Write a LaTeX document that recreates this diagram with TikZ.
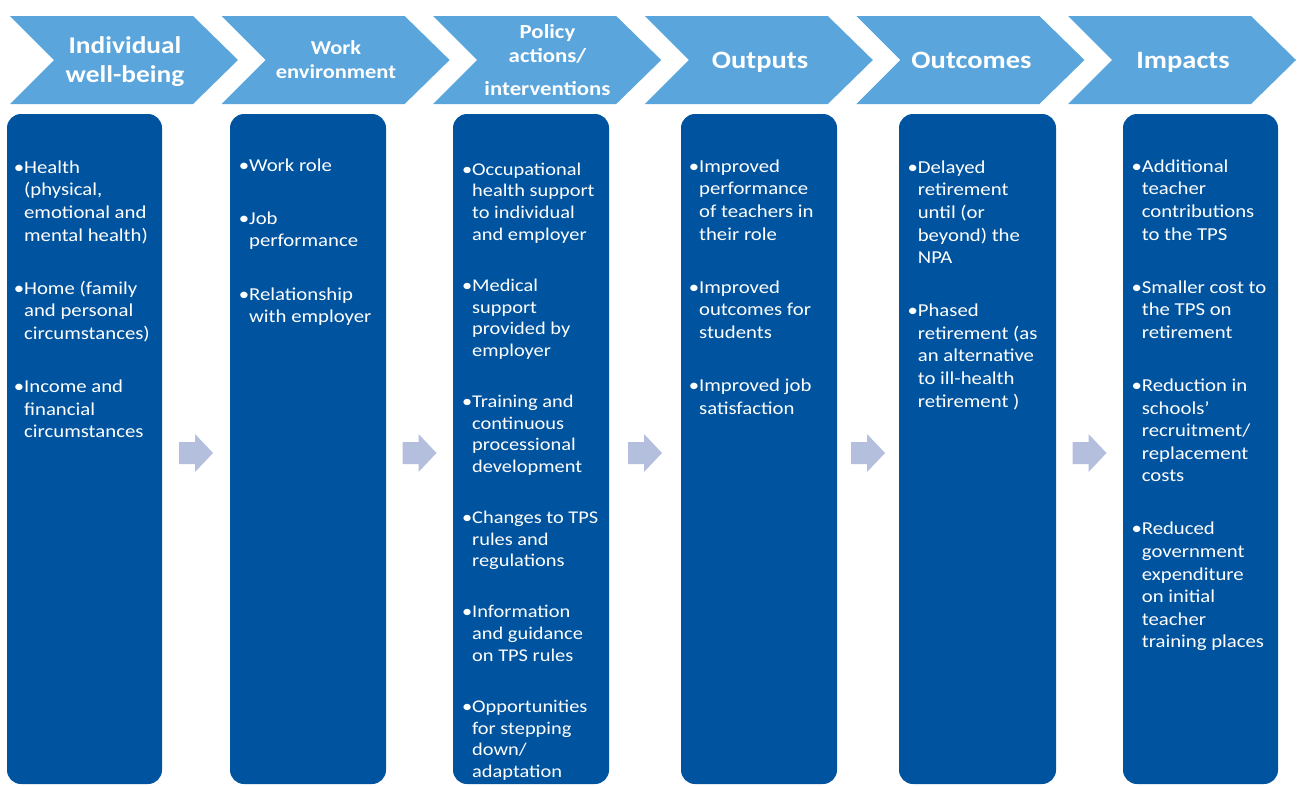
\documentclass[tikz,border=0pt]{standalone}
\usepackage{fontspec}
\setmainfont{Carlito}[FakeStretch=1.14]
\definecolor{chevblue}{HTML}{5AA5DC}
\definecolor{boxblue}{HTML}{00549F}
\definecolor{arrowgrey}{HTML}{B4BEDD}
% zero-width strut fixing the first baseline 20pt below a node's top edge
\newcommand\firstln{\rule{0pt}{20pt}}
% indent for continuation lines of a bullet item
\newcommand\ind{\hphantom{•}}
\begin{document}
\begin{tikzpicture}[x=1pt,y=-1pt,
  chevron/.style={fill=chevblue},
  stagebox/.style={fill=boxblue, rounded corners=14pt},
  flowarrow/.style={fill=arrowgrey},
  head/.style={text=white, align=center, inner sep=0pt, anchor=north},
  items/.style={text=white, align=left, inner sep=0pt, anchor=north west,
                font=\fontsize{18.2}{22.6}\selectfont},
  itemsnarrow/.style={items, font=\fontsize{17.9}{21.7}\selectfont},
]
\useasboundingbox (0,0) rectangle (1297,785);

% stage chevrons along the top
\foreach \i in {0,...,5}{
  \pgfmathsetmacro\xo{10+211.6*\i}
  \fill[chevron] (\xo,16) -- (\xo+183,16) -- (\xo+228,60) -- (\xo+183,104)
                 -- (\xo,104) -- (\xo+44,60) -- cycle;
}

% stage titles
\node[head, font=\bfseries\fontsize{24}{29}\selectfont] (h1) at (125,33)
  {\firstln Individual\\well-being};
\node[head, font=\bfseries\fontsize{19.7}{24}\selectfont] (h2) at (336,34)
  {\firstln Work\\environment};
\node[head, font=\bfseries\fontsize{20}{24}\selectfont] (h3) at (547.5,18)
  {\firstln Policy\\actions/\\[9pt]interventions};
\node[head, font=\bfseries\fontsize{25}{30}\selectfont] (h4) at (760,48)
  {\firstln Outputs};
\node[head, font=\bfseries\fontsize{25}{30}\selectfont] (h5) at (971.5,48)
  {\firstln Outcomes};
\node[head, font=\bfseries\fontsize{25}{30}\selectfont] (h6) at (1183,48)
  {\firstln Impacts};

% column panels
\foreach \l/\r in {7/162, 230/386, 453/609, 681/837, 899/1056, 1123/1278}
  \fill[stagebox] (\l,114) rectangle (\r,784);

% arrows between the panels
\foreach \c in {196,419.5,645,868,1089.5}
  \fill[flowarrow] (\c-17,442) -- (\c-1,442) -- (\c-1,434) -- (\c+17,453)
                   -- (\c-1,472) -- (\c-1,464) -- (\c-17,464) -- cycle;

% panel contents
\node[items] (c1) at (13.6,153) {\firstln •Health\\\ind(physical,\\\ind emotional and\\\ind mental health)\\[30.5pt]%
•Home (family\\\ind and personal\\\ind circumstances)\\[30.5pt]%
•Income and\\\ind financial\\\ind circumstances};

\node[items] (c2) at (238.6,151) {\firstln •Work role\\[30.5pt]%
•Job\\\ind performance\\[30.5pt]%
•Relationship\\\ind with employer};

\node[itemsnarrow] (c3) at (461.8,155) {\firstln •Occupational\\\ind health support\\\ind to individual\\\ind and employer\\[29.3pt]%
•Medical\\\ind support\\\ind provided by\\\ind employer\\[29.3pt]%
•Training and\\\ind continuous\\\ind processional\\\ind development\\[29.3pt]%
•Changes to TPS\\\ind rules and\\\ind regulations\\[29.3pt]%
•Information\\\ind and guidance\\\ind on TPS rules\\[29.3pt]%
•Opportunities\\\ind for stepping\\\ind down/\\\ind adaptation};

\node[items] (c4) at (688.6,152) {\firstln •Improved\\\ind performance\\\ind of teachers in\\\ind their role\\[30.5pt]%
•Improved\\\ind outcomes for\\\ind students\\[30.5pt]%
•Improved job\\\ind satisfaction};

\node[items] (c5) at (907.3,153) {\firstln •Delayed\\\ind retirement\\\ind until (or\\\ind beyond) the\\\ind NPA\\[30.5pt]%
•Phased\\\ind retirement (as\\\ind an alternative\\\ind to ill-health\\\ind retirement )};

\node[items] (c6) at (1131.3,152) {\firstln •Additional\\\ind teacher\\\ind contributions\\\ind to the TPS\\[30.5pt]%
•Smaller cost to\\\ind the TPS on\\\ind retirement\\[30.5pt]%
•Reduction in\\\ind schools’\\\ind recruitment/\\\ind replacement\\\ind costs\\[30.5pt]%
•Reduced\\\ind government\\\ind expenditure\\\ind on initial\\\ind teacher\\\ind training places};
\end{tikzpicture}
\end{document}
